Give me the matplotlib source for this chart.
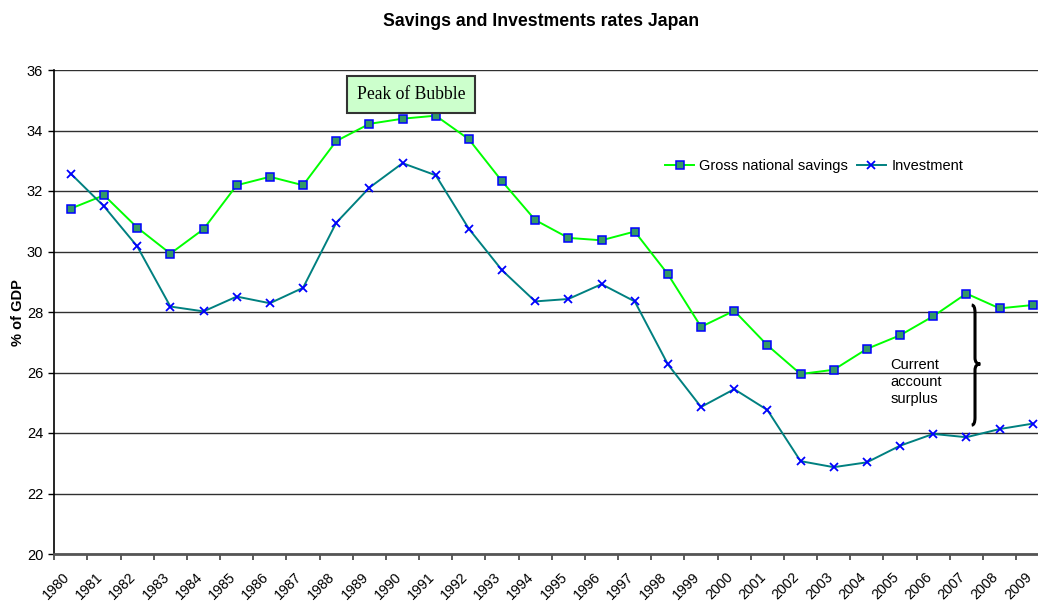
import matplotlib.pyplot as plt
import numpy as np
from matplotlib.path import Path
from matplotlib.patches import PathPatch

plt.rcParams['font.family'] = ['Liberation Sans', 'DejaVu Sans']

# ---------------- data ----------------
years = list(range(1980, 2010))
savings = [31.42, 31.86, 30.79, 29.93, 30.74, 32.19, 32.47, 32.19, 33.65, 34.22,
           34.39, 34.49, 33.71, 32.32, 31.04, 30.45, 30.37, 30.66, 29.25, 27.51,
           28.04, 26.90, 25.95, 26.09, 26.78, 27.23, 27.86, 28.61, 28.12, 28.23]
investment = [32.57, 31.49, 30.17, 28.18, 28.02, 28.51, 28.29, 28.80, 30.95, 32.11,
              32.92, 32.52, 30.75, 29.38, 28.35, 28.43, 28.92, 28.35, 26.27, 24.86,
              25.45, 24.76, 23.07, 22.87, 23.03, 23.58, 23.97, 23.86, 24.13, 24.31]

W, H = 1038, 601
fig = plt.figure(figsize=(W / 100, H / 100), dpi=100)
# axes runs a bit past the right edge, like the original screenshot
ax = fig.add_axes([54.3 / W, 1 - 554 / H, 995 / W, 484 / H])

x = np.arange(len(years)) + 0.5

ax.plot(x, savings, color='#00FF00', lw=1.4, marker='s', markersize=5.5,
        markerfacecolor='#339966', markeredgecolor='#0000FF', markeredgewidth=1.1,
        label='Gross national savings', zorder=3)
ax.plot(x, investment, color='#008080', lw=1.4, marker='x', markersize=6,
        markeredgecolor='#0000FF', markeredgewidth=1.3,
        label='Investment', zorder=3)

ax.set_xlim(0, len(years))
ax.set_ylim(20, 36)
ax.set_yticks(np.arange(20, 37, 2))
ax.yaxis.grid(True, color='#303030', lw=1.0)
ax.set_axisbelow(True)

# ticks between categories, labels offset like Excel
ax.set_xticks(np.arange(len(years)))
ax.set_xticklabels([])
ax.set_xticks(np.arange(len(years)) + 0.4, [str(y) for y in years], minor=True)
ax.tick_params(axis='x', which='major', length=4, width=1.2, color='#404040')
ax.tick_params(axis='x', which='minor', length=0, pad=15, labelsize=10.3)
for lab in ax.get_xticklabels(minor=True):
    lab.set_rotation(45)
    lab.set_ha('right')
    lab.set_va('center')
    lab.set_rotation_mode('anchor')
ax.tick_params(axis='y', length=4, width=1.0, pad=4, labelsize=10.5)

for s in ['top', 'right']:
    ax.spines[s].set_visible(False)
ax.spines['left'].set_linewidth(1.2)
ax.spines['bottom'].set_linewidth(2)
ax.spines['bottom'].set_color('#555555')

fig.text(541 / W, 1 - 22 / H, 'Savings and Investments rates Japan',
         ha='center', va='center', fontsize=12.7, fontweight='bold')
fig.text(18 / W, 1 - 313 / H, '% of GDP', rotation=90, ha='center', va='center',
         fontsize=10.5, fontweight='bold')

ax.legend(loc='center left', bbox_to_anchor=(665 / W, 1 - 166 / H),
          bbox_transform=fig.transFigure, ncol=2, frameon=False, fontsize=10.5,
          handlelength=2.0, handletextpad=0.35, columnspacing=0.6,
          borderpad=0, borderaxespad=0)

ax.text(10.75, 35.19, 'Peak of Bubble', family=['Liberation Serif', 'DejaVu Serif'],
        fontsize=12.7, ha='center', va='center', zorder=5,
        bbox=dict(boxstyle='square,pad=0.55', facecolor='#CCFFCC',
                  edgecolor='#333333', lw=1.5))

ax.text(25.21, 25.69, 'Current\naccount\nsurplus', ha='left', va='center',
        fontsize=10.5, linespacing=1.25)

# curly brace marking the gap
yt, ym, yb = 28.23, 26.28, 24.26
xl, xv, xt = 27.66, 27.76, 27.92
verts = [(xl, yt), (xv, yt), (xv, yt - 0.25),
         (xv, ym + 0.2), (xv, ym), (xt, ym),
         (xv, ym), (xv, ym - 0.2),
         (xv, yb + 0.25), (xv, yb), (xl, yb)]
codes = [Path.MOVETO, Path.CURVE3, Path.CURVE3,
         Path.LINETO, Path.CURVE3, Path.CURVE3,
         Path.CURVE3, Path.CURVE3,
         Path.LINETO, Path.CURVE3, Path.CURVE3]
ax.add_patch(PathPatch(Path(verts, codes), fill=False, lw=2.2, color='black', zorder=4))

fig.savefig('out.png', dpi=100)
